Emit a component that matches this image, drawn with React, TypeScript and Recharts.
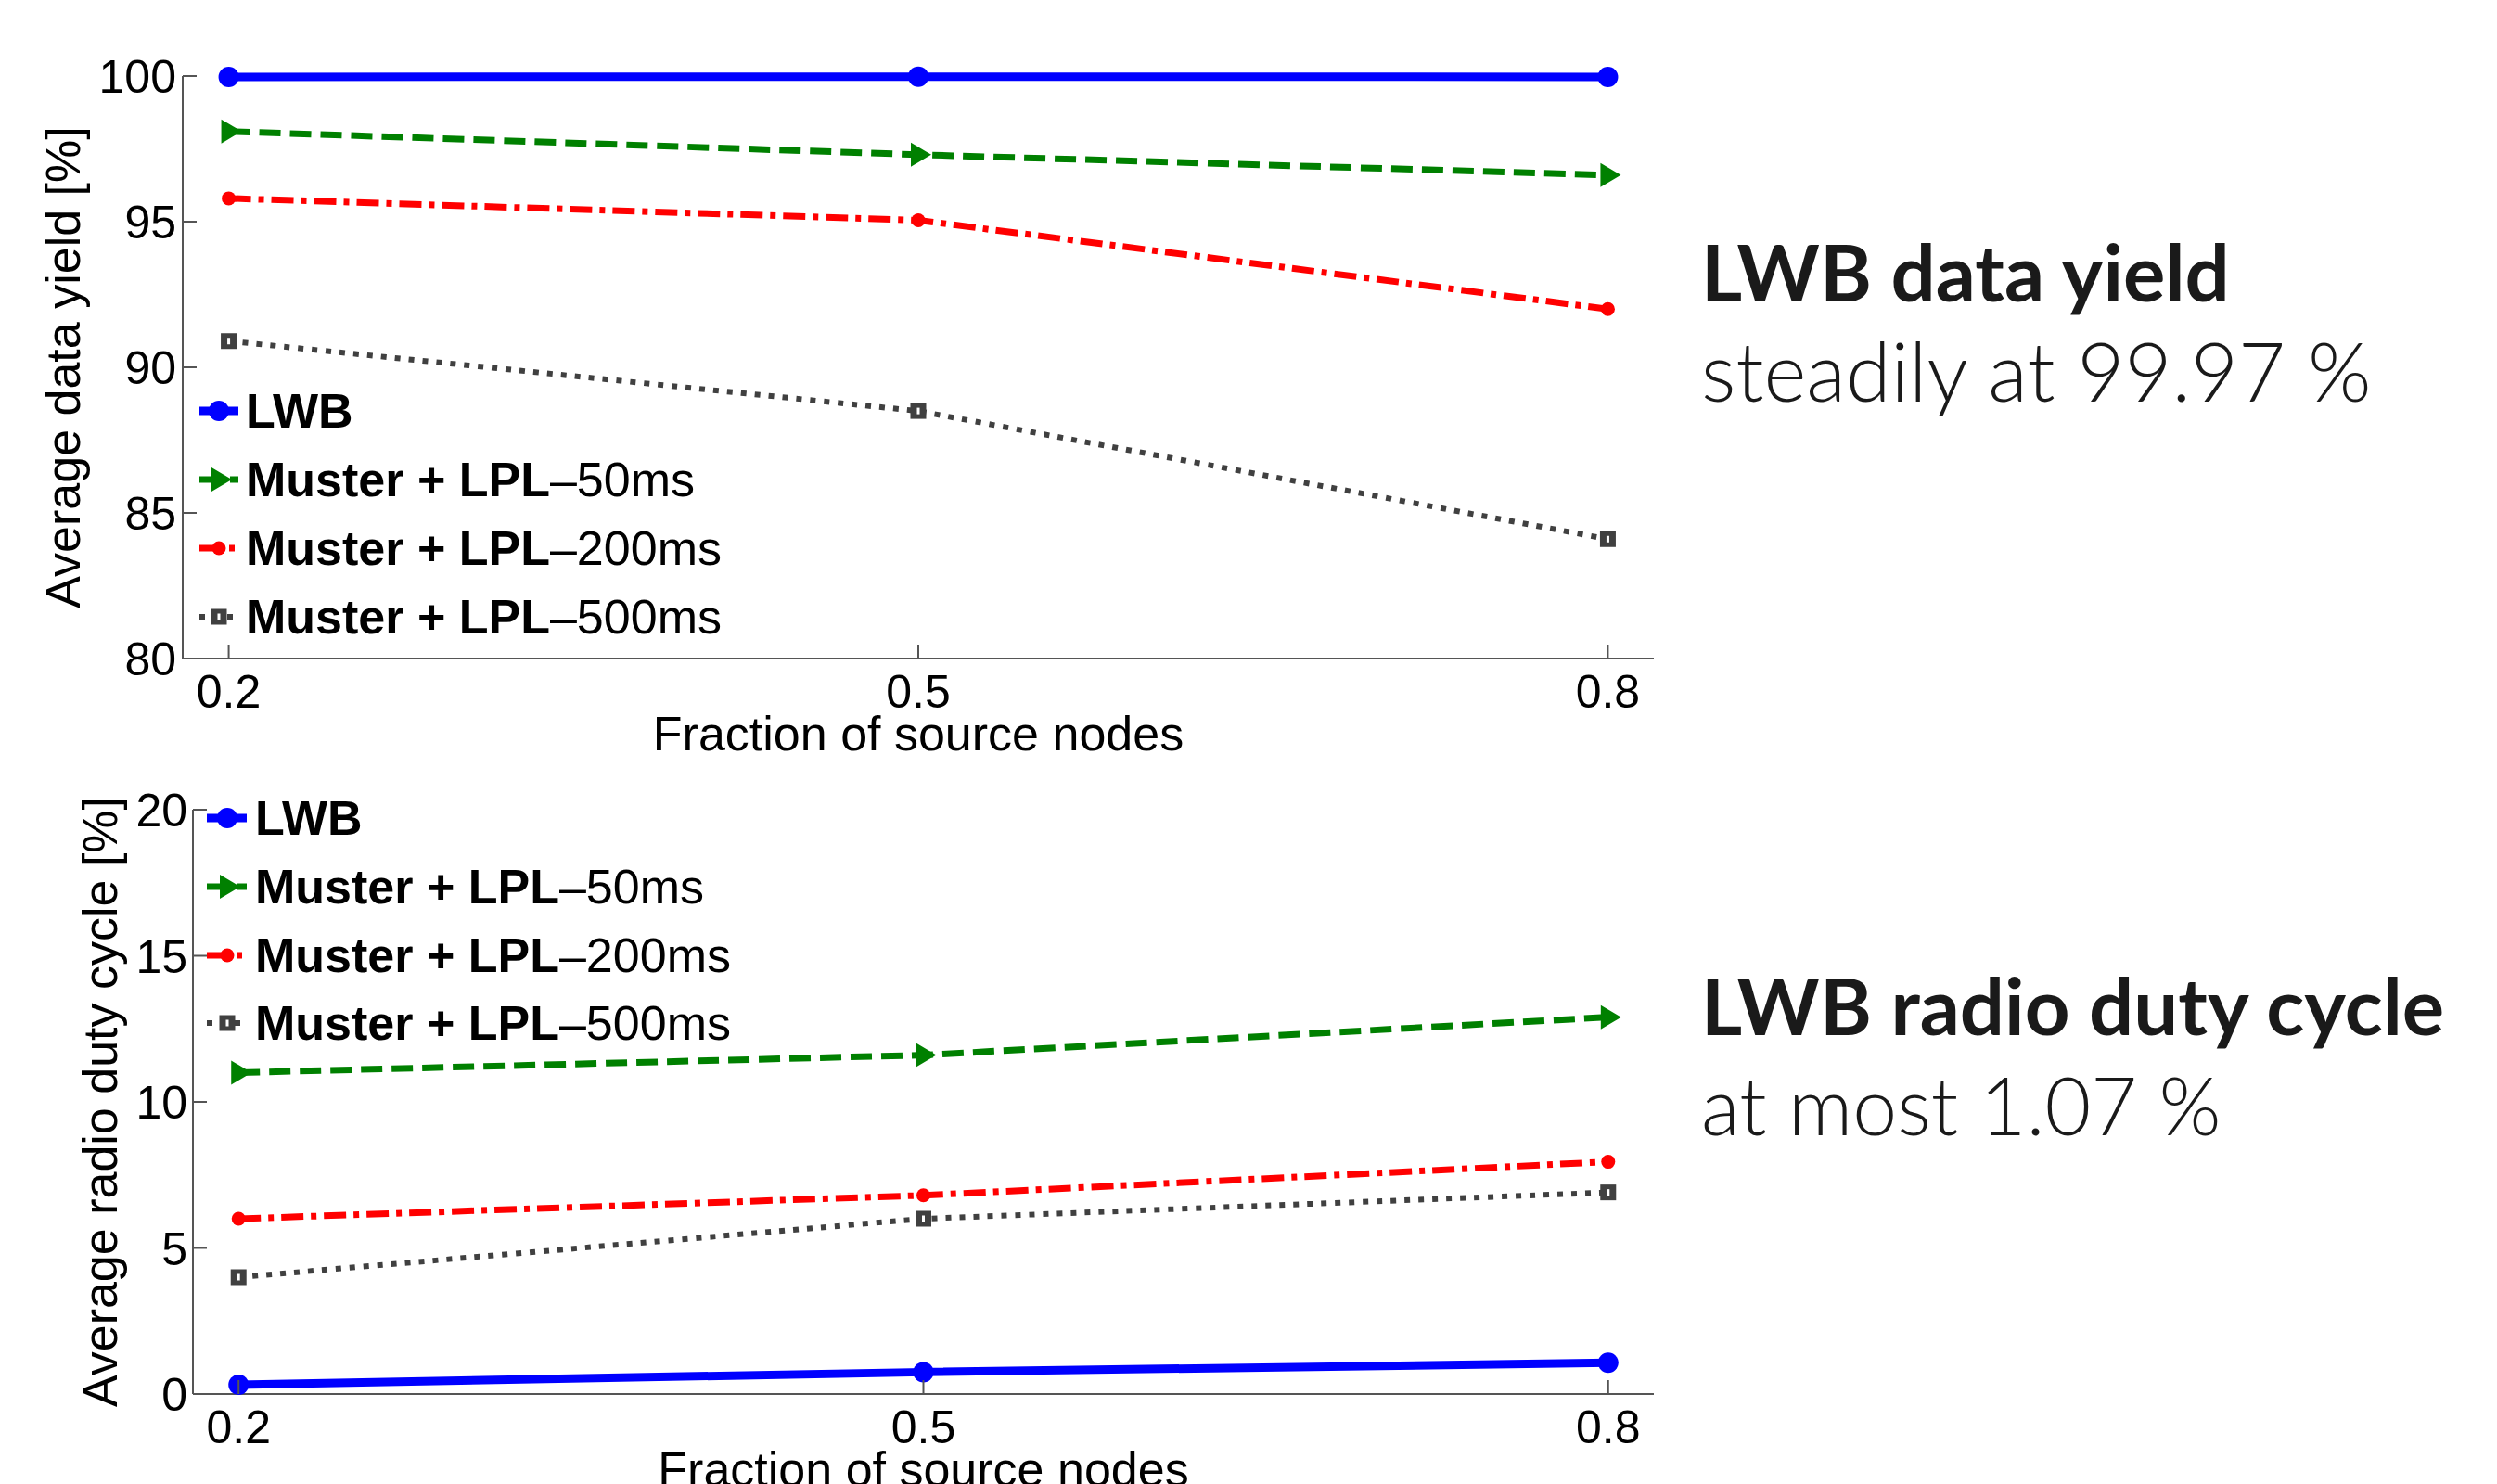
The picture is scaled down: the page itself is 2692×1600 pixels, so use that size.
import { LineChart, Line, XAxis, YAxis, Label } from 'recharts'

const fractions = [0.2, 0.5, 0.8]
const yieldTicks = [80, 85, 90, 95, 100]
const dutyTicks = [0, 5, 10, 15, 20]

const seriesKeys = ['lwb', 'lpl50', 'lpl200', 'lpl500']
const seriesNames = ['LWB', 'Muster + LPL–50ms', 'Muster + LPL–200ms', 'Muster + LPL–500ms']

// average data yield [%]
const yieldLwb = [99.97, 99.98, 99.97]
const yieldLpl50 = [98.1, 97.3, 96.6]
const yieldLpl200 = [95.8, 95.05, 92.0]
const yieldLpl500 = [90.9, 88.5, 84.1]

// average radio duty cycle [%]
const dutyLwb = [0.32, 0.75, 1.07]
const dutyLpl50 = [11.0, 11.6, 12.9]
const dutyLpl200 = [6.0, 6.8, 7.95]
const dutyLpl500 = [4.0, 6.0, 6.9]

const yieldData = fractions.map((f, i) => ({
  f, lwb: yieldLwb[i], lpl50: yieldLpl50[i], lpl200: yieldLpl200[i], lpl500: yieldLpl500[i],
}))
const dutyData = fractions.map((f, i) => ({
  f, lwb: dutyLwb[i], lpl50: dutyLpl50[i], lpl200: dutyLpl200[i], lpl500: dutyLpl500[i],
}))

type MarkerKind = 'circle' | 'triangle' | 'dot' | 'square'
const styles: { color: string; width: number; dash?: string; marker: MarkerKind }[] = [
  { color: '#0000ff', width: 9, marker: 'circle' },
  { color: '#008000', width: 7, dash: '23 10', marker: 'triangle' },
  { color: '#ff0000', width: 7, dash: '24 8 6 8', marker: 'dot' },
  { color: '#404040', width: 6, dash: '6 9', marker: 'square' },
]

const FONT = '"Liberation Sans", Arial, Helvetica, sans-serif'
const AXIS = '#555'

function drawMarker(kind: MarkerKind, cx: number, cy: number, color: string, key?: string) {
  if (kind === 'circle') return <circle key={key} cx={cx} cy={cy} r={11} fill={color} />
  if (kind === 'dot') return <circle key={key} cx={cx} cy={cy} r={7.5} fill={color} />
  if (kind === 'triangle') {
    return <polygon key={key} points={`${cx - 8},${cy - 13} ${cx - 8},${cy + 13} ${cx + 14},${cy}`} fill={color} />
  }
  return (
    <g key={key}>
      <rect x={cx - 8.5} y={cy - 8.5} width={17} height={17} fill={color} />
      <rect x={cx - 1.5} y={cy - 3.5} width={3} height={7} fill="#fff" />
    </g>
  )
}

function makeYTick(margin: number) {
  return (props: any) => {
    const { x, y, payload } = props
    const ax = x + margin
    return (
      <g>
        <line x1={ax} x2={ax + 15} y1={y} y2={y} stroke={AXIS} strokeWidth={2} />
        <text x={x} y={y + 18} textAnchor="end" fontSize={50} fontFamily={FONT} fill="#000">
          {payload.value}
        </text>
      </g>
    )
  }
}

function XTick(props: any) {
  const { x, y, payload } = props
  return (
    <g>
      <line x1={x} x2={x} y1={y} y2={y - 15} stroke={AXIS} strokeWidth={2} />
      <text x={x} y={y + 53} textAnchor="middle" fontSize={50} fontFamily={FONT} fill="#000">
        {payload.value}
      </text>
    </g>
  )
}

function xTitle(props: any) {
  const vb = props.viewBox
  return (
    <text x={vb.x + vb.width / 2} y={vb.y + 99} textAnchor="middle" fontSize={52} fontFamily={FONT} fill="#000">
      Fraction of source nodes
    </text>
  )
}

function yTitle(text: string, bx: number) {
  return (props: any) => {
    const vb = props.viewBox
    const cy = vb.y + vb.height / 2
    return (
      <text x={bx} y={cy} transform={`rotate(-90 ${bx} ${cy})`} textAnchor="middle" fontSize={52} fontFamily={FONT} fill="#000">
        {text}
      </text>
    )
  }
}

function renderLines() {
  return seriesKeys.map((k, i) => {
    const s = styles[i]
    return (
      <Line
        key={k}
        type="linear"
        dataKey={k}
        stroke={s.color}
        strokeWidth={s.width}
        strokeDasharray={s.dash}
        dot={(p: any) => drawMarker(s.marker, p.cx, p.cy, s.color, `${k}-${p.index}`)}
        activeDot={false}
        isAnimationActive={false}
      />
    )
  })
}

function LegendBlock({ rows, x1, x2, mx, tx }: { rows: number[]; x1: number; x2: number; mx: number; tx: number }) {
  return (
    <g>
      {seriesNames.map((name, i) => {
        const s = styles[i]
        const cy = rows[i]
        const cut = name.indexOf('–')
        const boldPart = cut < 0 ? name : name.slice(0, cut)
        const rest = cut < 0 ? '' : name.slice(cut)
        return (
          <g key={name}>
            <line x1={x1} x2={x2} y1={cy} y2={cy} stroke={s.color} strokeWidth={s.width} strokeDasharray={s.dash} />
            {drawMarker(s.marker, mx, cy, s.color)}
            <text x={tx} y={cy + 18} fontSize={52} fontFamily={FONT} fill="#000">
              <tspan fontWeight="bold">{boldPart}</tspan>
              {rest && <tspan>{rest}</tspan>}
            </text>
          </g>
        )
      })}
    </g>
  )
}

const NOTE_FONT = 'Lato, "Open Sans", sans-serif'

export default function App() {
  return (
    <div style={{ position: 'absolute', left: 0, top: 0, width: 2692, height: 1600, background: '#fff', overflow: 'hidden' }}>
      <div style={{ position: 'absolute', left: 0, top: 0 }}>
        <LineChart width={1800} height={830} data={yieldData} margin={{ top: 82, right: 17, bottom: 20, left: 0 }}>
          <XAxis
            dataKey="f"
            type="number"
            domain={[0.18, 0.82]}
            ticks={fractions}
            interval={0}
            height={100}
            tickSize={0}
            tickMargin={0}
            tickLine={false}
            tick={XTick}
            axisLine={{ stroke: AXIS, strokeWidth: 2 }}
          >
            <Label content={xTitle} />
          </XAxis>
          <YAxis
            type="number"
            domain={[80, 100]}
            ticks={yieldTicks}
            interval={0}
            width={197}
            tickSize={0}
            tickMargin={7}
            tickLine={false}
            tick={makeYTick(7)}
            axisLine={{ stroke: AXIS, strokeWidth: 2 }}
          >
            <Label content={yTitle('Average data yield [%]', 86)} />
          </YAxis>
          {renderLines()}
        </LineChart>
      </div>

      <div style={{ position: 'absolute', left: 0, top: 780 }}>
        <LineChart width={1800} height={820} data={dutyData} margin={{ top: 93, right: 17, bottom: 0, left: 0 }}>
          <XAxis
            dataKey="f"
            type="number"
            domain={[0.18, 0.82]}
            ticks={fractions}
            interval={0}
            height={97}
            tickSize={0}
            tickMargin={0}
            tickLine={false}
            tick={XTick}
            axisLine={{ stroke: AXIS, strokeWidth: 2 }}
          >
            <Label content={xTitle} />
          </XAxis>
          <YAxis
            type="number"
            domain={[0, 20]}
            ticks={dutyTicks}
            interval={0}
            width={208}
            tickSize={0}
            tickMargin={6}
            tickLine={false}
            tick={makeYTick(6)}
            axisLine={{ stroke: AXIS, strokeWidth: 2 }}
          >
            <Label content={yTitle('Average radio duty cycle [%]', 126)} />
          </YAxis>
          {renderLines()}
        </LineChart>
      </div>

      <svg width={2692} height={1600} style={{ position: 'absolute', left: 0, top: 0, pointerEvents: 'none' }}>
        <LegendBlock rows={[443, 517, 591, 665]} x1={215} x2={257} mx={236} tx={265} />
        <LegendBlock rows={[882, 956, 1030, 1103]} x1={223} x2={266} mx={245} tx={275} />

        <text x={1834} y={325} fontFamily={NOTE_FONT} fontWeight={700} fontSize={85} fill="#1a1a1a">LWB data yield</text>
        <text x={1834} y={433} fontFamily={NOTE_FONT} fontWeight={300} fontSize={88} fill="#1a1a1a">steadily at 99.97 %</text>
        <text x={1834} y={1116} fontFamily={NOTE_FONT} fontWeight={700} fontSize={85} fill="#1a1a1a">LWB radio duty cycle</text>
        <text x={1834} y={1224} fontFamily={NOTE_FONT} fontWeight={300} fontSize={86} fill="#1a1a1a">at most 1.07 %</text>
      </svg>
    </div>
  )
}
